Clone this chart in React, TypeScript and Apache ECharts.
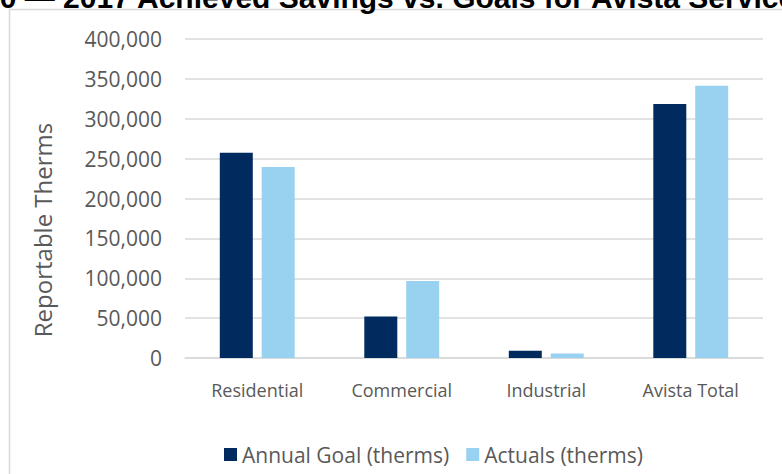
import React, { useEffect, useRef } from "react";
import * as echarts from "echarts";

const categories = ["Residential", "Commercial", "Industrial", "Avista Total"];
const annualGoal = [257500, 52000, 9000, 318500];
const actuals = [239500, 96500, 5500, 341500];
const seriesNames = ["Annual Goal (therms)", "Actuals (therms)"];
const yTicks = { min: 0, max: 400000, interval: 50000 };
const titleText = "Figure 4.10 \u2014 2017 Achieved Savings vs. Goals for Avista Service Territory";
const yAxisName = "Reportable Therms";

const FONT = "'Open Sans', 'Noto Sans', sans-serif";
const TEXT = "#595959";

export default function App() {
  const ref = useRef<HTMLDivElement>(null);
  useEffect(() => {
    document.body.style.margin = "0";
    const chart = echarts.init(ref.current!, null, { renderer: "svg" });
    chart.setOption({
      animation: false,
      backgroundColor: "#ffffff",
      textStyle: { fontFamily: FONT },
      grid: { left: 185, right: 19, top: 39, bottom: 116 },
      legend: {
        data: seriesNames,
        left: 219,
        top: 439,
        icon: "rect",
        itemWidth: 13,
        itemHeight: 13,
        itemGap: 17,
        textStyle: { fontSize: 21, color: TEXT, fontFamily: FONT },
      },
      xAxis: {
        type: "category",
        data: categories,
        axisLine: { show: true, lineStyle: { color: "#D9D9D9", width: 1.5 } },
        axisTick: { show: false },
        axisLabel: { fontSize: 18, color: TEXT, margin: 23, fontFamily: FONT },
      },
      yAxis: {
        type: "value",
        min: yTicks.min,
        max: yTicks.max,
        interval: yTicks.interval,
        axisLine: { show: false },
        axisTick: { show: false },
        splitLine: { lineStyle: { color: "#D9D9D9", width: 1.5 } },
        axisLabel: {
          fontSize: 21,
          color: TEXT,
          margin: 23,
          fontFamily: FONT,
          formatter: (v: number) => v.toLocaleString("en-US"),
        },
      },
      series: [
        {
          name: seriesNames[0],
          type: "bar",
          data: annualGoal,
          barWidth: 33,
          barGap: "27%",
          itemStyle: { color: "#012A5E" },
        },
        {
          name: seriesNames[1],
          type: "bar",
          data: actuals,
          barWidth: 33,
          itemStyle: { color: "#99D1F1" },
        },
      ],
      graphic: [
        {
          type: "rect",
          z: -10,
          shape: { x: 9.5, y: 9.5, width: 900, height: 600 },
          style: { fill: "none", stroke: "#D9D9D9", lineWidth: 1.5 },
        },
        {
          type: "text",
          x: 42,
          y: 230,
          rotation: Math.PI / 2,
          style: {
            text: yAxisName,
            font: `24px ${FONT}`,
            fill: TEXT,
            textAlign: "center",
            textVerticalAlign: "middle",
          },
        },
        {
          type: "text",
          x: -142,
          y: -3,
          style: {
            text: titleText,
            font: "bold 30px 'Liberation Sans', Arial, sans-serif",
            fill: "#000000",
            textAlign: "left",
            textVerticalAlign: "middle",
          },
        },
      ],
    });
    return () => chart.dispose();
  }, []);
  return <div ref={ref} style={{ width: 782, height: 474 }} />;
}
